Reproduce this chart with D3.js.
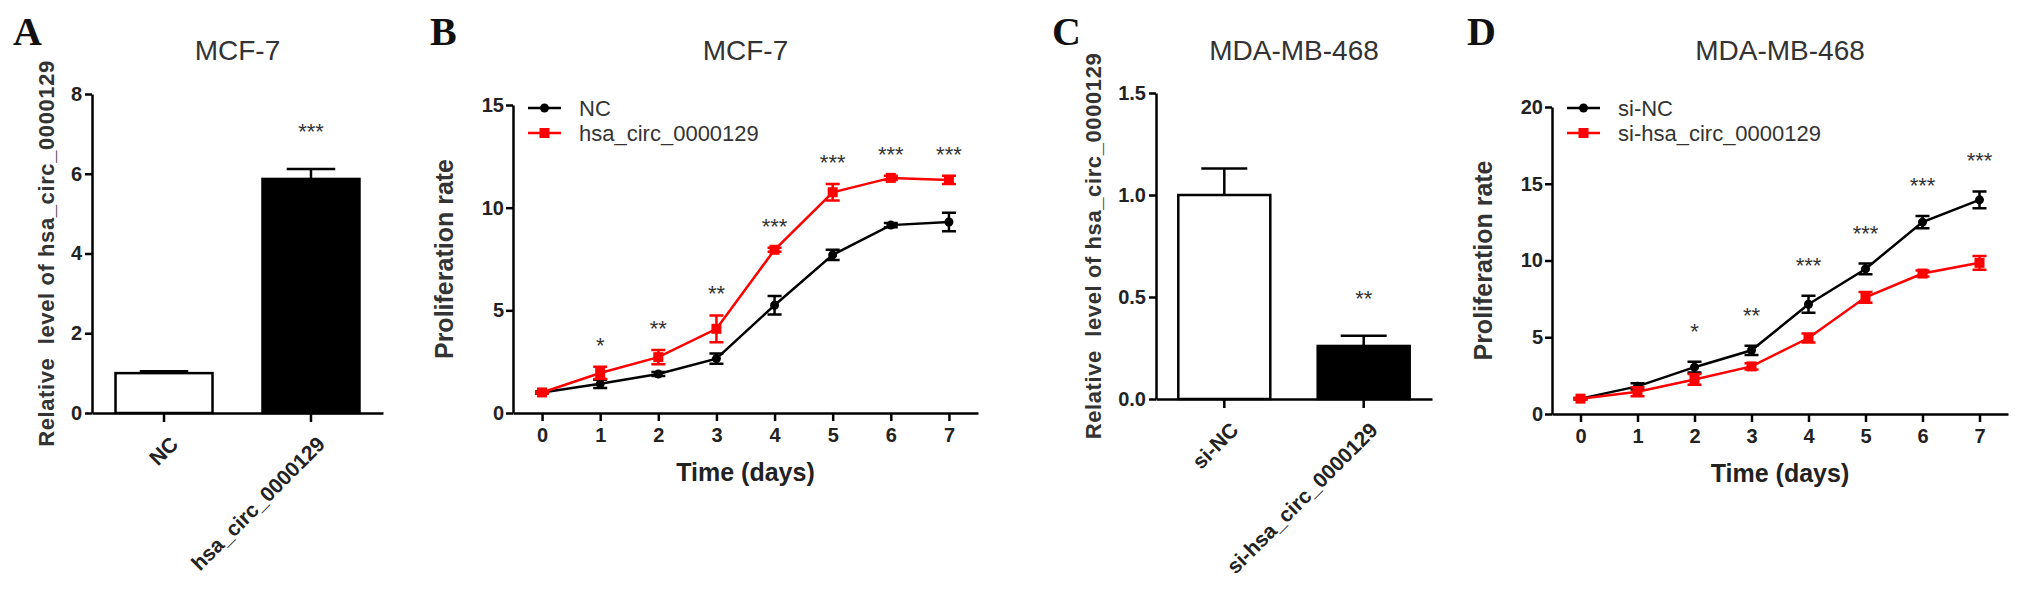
<!DOCTYPE html>
<html>
<head>
<meta charset="utf-8">
<script src="https://cdn.jsdelivr.net/npm/d3@7"></script>
<style>
body { margin: 0; background: #fff; }
text { font-family: "Liberation Sans", Arial, sans-serif; }
</style>
</head>
<body>
<script>
// panel A / C : bar charts
var groupsA = ["NC", "hsa_circ_0000129"];
var valuesA = [1.0, 5.87];
var errorsA = [0.05, 0.25];
var sigA = ["", "***"];
var yTicksA = [0, 2, 4, 6, 8];

var groupsC = ["si-NC", "si-hsa_circ_0000129"];
var valuesC = [1.0, 0.26];
var errorsC = [0.13, 0.05];
var sigC = ["", "**"];
var yTicksC = [0, 0.5, 1.0, 1.5];

// panel B / D : proliferation curves
var days = [0, 1, 2, 3, 4, 5, 6, 7];

var mcfNC = [1.0, 1.42, 1.9, 2.65, 5.25, 7.7, 9.15, 9.3];
var mcfNCErr = [0.05, 0.2, 0.1, 0.25, 0.45, 0.25, 0.1, 0.45];
var mcfCirc = [1.0, 1.95, 2.72, 4.1, 7.95, 10.75, 11.45, 11.35];
var mcfCircErr = [0.05, 0.3, 0.35, 0.65, 0.1, 0.4, 0.1, 0.2];
var mcfSig = ["", "*", "**", "**", "***", "***", "***", "***"];
var yTicksB = [0, 5, 10, 15];

var mdaNC = [1.0, 1.8, 3.05, 4.15, 7.15, 9.45, 12.5, 13.95];
var mdaNCErr = [0.05, 0.2, 0.35, 0.3, 0.55, 0.35, 0.4, 0.55];
var mdaSi = [1.0, 1.45, 2.25, 3.1, 4.95, 7.6, 9.15, 9.85];
var mdaSiErr = [0.05, 0.3, 0.35, 0.2, 0.3, 0.35, 0.2, 0.45];
var mdaSig = ["", "", "*", "**", "***", "***", "***", "***"];
var yTicksD = [0, 5, 10, 15, 20];

var W = 2031, H = 602;
var AXW = 2.5;

function styleAxis(g, size) {
    g.selectAll("path.domain").attr("stroke", "#000").attr("stroke-width", AXW);
    g.selectAll(".tick line").attr("stroke", "#000").attr("stroke-width", AXW);
    g.selectAll(".tick text")
        .attr("fill", "#222")
        .style("font-size", size + "px")
        .style("font-weight", "bold")
        .style("font-family", "'Liberation Sans', Arial, sans-serif");
}

function header(svg, c) {
    svg.append("text")
        .attr("x", c.letterX).attr("y", 45)
        .style("font-family", "'Liberation Serif', 'Times New Roman', serif")
        .style("font-weight", "bold")
        .style("font-size", "40px")
        .attr("fill", "#111")
        .text(c.letter);

    svg.append("text")
        .attr("x", (c.left + c.right) / 2).attr("y", 60)
        .attr("text-anchor", "middle")
        .style("font-size", "28px")
        .attr("fill", "#333")
        .text(c.title);

    svg.append("text")
        .attr("transform", "translate(" + c.labelX + "," + (c.top + c.bottom) / 2 + ") rotate(-90)")
        .attr("text-anchor", "middle")
        .style("font-size", c.labelSize + "px")
        .style("font-weight", "bold")
        .style("letter-spacing", c.labelSpacing + "px")
        .style("white-space", "pre")
        .attr("fill", "#333")
        .text(c.ylabel);
}

function barPanel(svg, c) {
    var x = d3.scaleBand()
        .domain(c.groups)
        .range([c.left, c.right])
        .paddingInner(0.34)
        .paddingOuter(0.16);
    var y = d3.scaleLinear()
        .domain([0, c.ticks[c.ticks.length - 1]])
        .range([c.bottom, c.top]);
    var bw = x.bandwidth();

    header(svg, c);

    var data = c.groups.map(function(g, i) {
        return { g: g, v: c.values[i], e: c.errors[i], s: c.sig[i], i: i };
    });

    // error bars first, bar outline on top
    svg.selectAll(null).data(data).enter().append("line")
        .attr("x1", function(d) { return x(d.g) + bw / 2; })
        .attr("x2", function(d) { return x(d.g) + bw / 2; })
        .attr("y1", function(d) { return y(d.v); })
        .attr("y2", function(d) { return y(d.v + d.e); })
        .attr("stroke", "#000").attr("stroke-width", AXW);
    svg.selectAll(null).data(data).enter().append("line")
        .attr("x1", function(d) { return x(d.g) + bw / 4; })
        .attr("x2", function(d) { return x(d.g) + bw * 3 / 4; })
        .attr("y1", function(d) { return y(d.v + d.e); })
        .attr("y2", function(d) { return y(d.v + d.e); })
        .attr("stroke", "#000").attr("stroke-width", AXW);

    svg.selectAll(null).data(data).enter().append("rect")
        .attr("x", function(d) { return x(d.g); })
        .attr("y", function(d) { return y(d.v); })
        .attr("width", bw)
        .attr("height", function(d) { return y(0) - y(d.v); })
        .attr("fill", function(d) { return d.i == 0 ? "#fff" : "#000"; })
        .attr("stroke", "#000").attr("stroke-width", AXW);

    svg.selectAll(null).data(data).enter().append("text")
        .attr("x", function(d) { return x(d.g) + bw / 2; })
        .attr("y", function(d) { return y(d.v + d.e) - c.sigOffset + 12; })
        .attr("text-anchor", "middle")
        .style("font-size", "22px")
        .attr("fill", "#333")
        .text(function(d) { return d.s; });

    var gy = svg.append("g")
        .attr("transform", "translate(" + c.left + ",0)")
        .call(d3.axisLeft(y).tickValues(c.ticks).tickSize(7).tickSizeOuter(0).tickPadding(3).tickFormat(c.fmt));
    styleAxis(gy, 20);

    var gx = svg.append("g")
        .attr("transform", "translate(0," + c.bottom + ")")
        .call(d3.axisBottom(x).tickSize(9).tickSizeOuter(0).tickFormat(""));
    styleAxis(gx, 20);

    svg.selectAll(null).data(data).enter().append("text")
        .attr("transform", function(d) {
            return "translate(" + (x(d.g) + bw / 2 + 5) + "," + (c.bottom + 22) + ") rotate(-45)";
        })
        .attr("text-anchor", "end")
        .attr("dy", "0.7em")
        .style("font-size", "21px")
        .style("font-weight", "bold")
        .attr("fill", "#222")
        .text(function(d) { return d.g; });
}

function linePanel(svg, c) {
    var x = d3.scaleLinear().domain([-0.5, 7.5]).range([c.left, c.right]);
    var y = d3.scaleLinear()
        .domain([0, c.ticks[c.ticks.length - 1]])
        .range([c.bottom, c.top]);

    header(svg, c);

    var line = d3.line()
        .x(function(d) { return x(d.day); })
        .y(function(d) { return y(d.v); });

    c.series.forEach(function(s) {
        var pts = days.map(function(d, i) { return { day: d, v: s.values[i], e: s.errors[i] }; });
        var g = svg.append("g");
        g.append("path")
            .datum(pts)
            .attr("d", line)
            .attr("fill", "none")
            .attr("stroke", s.color)
            .attr("stroke-width", 2.5);

        g.selectAll(null).data(pts).enter().append("path")
            .attr("d", function(d) {
                var cx = x(d.day), t = y(d.v + d.e), b = y(d.v - d.e);
                return "M" + cx + "," + t + "V" + b +
                    "M" + (cx - 7) + "," + t + "H" + (cx + 7) +
                    "M" + (cx - 7) + "," + b + "H" + (cx + 7);
            })
            .attr("fill", "none")
            .attr("stroke", s.color)
            .attr("stroke-width", 2.5);

        if (s.shape == "circle") {
            g.selectAll(null).data(pts).enter().append("circle")
                .attr("cx", function(d) { return x(d.day); })
                .attr("cy", function(d) { return y(d.v); })
                .attr("r", 4.5)
                .attr("fill", s.color);
        } else {
            g.selectAll(null).data(pts).enter().append("rect")
                .attr("x", function(d) { return x(d.day) - 5; })
                .attr("y", function(d) { return y(d.v) - 5; })
                .attr("width", 10).attr("height", 10)
                .attr("fill", s.color);
        }
    });

    // significance stars above the higher curve
    svg.selectAll(null).data(days).enter().append("text")
        .attr("x", function(d) { return x(d); })
        .attr("y", function(d, i) {
            var top = d3.max(c.series, function(s) { return s.values[i] + s.errors[i]; });
            return y(top) - c.sigOffset + 12;
        })
        .attr("text-anchor", "middle")
        .style("font-size", "22px")
        .attr("fill", "#333")
        .text(function(d, i) { return c.sig[i]; });

    var gy = svg.append("g")
        .attr("transform", "translate(" + c.left + ",0)")
        .call(d3.axisLeft(y).tickValues(c.ticks).tickSize(7).tickSizeOuter(0).tickPadding(2).tickFormat(d3.format("d")));
    styleAxis(gy, 20);

    var gx = svg.append("g")
        .attr("transform", "translate(0," + c.bottom + ")")
        .call(d3.axisBottom(x).tickValues(days).tickSize(8).tickSizeOuter(0).tickPadding(7).tickFormat(d3.format("d")));
    styleAxis(gx, 20);

    svg.append("text")
        .attr("x", x(3.5)).attr("y", c.bottom + 68)
        .attr("text-anchor", "middle")
        .style("font-size", "25px")
        .style("font-weight", "bold")
        .attr("fill", "#222")
        .text("Time (days)");

    // legend
    c.series.forEach(function(s, i) {
        var ly = 108 + i * 25;
        var lx1 = c.left + 15, lx2 = c.left + 48, mid = (lx1 + lx2) / 2;
        svg.append("line")
            .attr("x1", lx1).attr("x2", lx2).attr("y1", ly).attr("y2", ly)
            .attr("stroke", s.color).attr("stroke-width", 2.5);
        if (s.shape == "circle") {
            svg.append("circle").attr("cx", mid).attr("cy", ly).attr("r", 4.5).attr("fill", s.color);
        } else {
            svg.append("rect").attr("x", mid - 5).attr("y", ly - 5).attr("width", 10).attr("height", 10).attr("fill", s.color);
        }
        svg.append("text")
            .attr("x", c.left + 66).attr("y", ly)
            .attr("dy", "0.36em")
            .style("font-size", "22px")
            .attr("fill", "#333")
            .text(s.name);
    });
}

function init() {
    var svg = d3.select("body").append("svg")
        .attr("width", W)
        .attr("height", H);

    svg.append("rect").attr("width", W).attr("height", H).attr("fill", "#fff");

    barPanel(svg, {
        letter: "A", letterX: 13, title: "MCF-7",
        left: 92, right: 383, top: 94, bottom: 413,
        groups: groupsA, values: valuesA, errors: errorsA, sig: sigA,
        ticks: yTicksA, fmt: d3.format("d"),
        ylabel: "Relative  level of hsa_circ_0000129", labelX: 54, labelSize: 22, labelSpacing: 0.6,
        sigOffset: 42
    });

    linePanel(svg, {
        letter: "B", letterX: 430, title: "MCF-7",
        left: 513, right: 978, top: 105, bottom: 413,
        ticks: yTicksB, sig: mcfSig, sigOffset: 26,
        ylabel: "Proliferation rate", labelX: 453, labelSize: 25, labelSpacing: 0,
        series: [
            { name: "NC", values: mcfNC, errors: mcfNCErr, color: "#000", shape: "circle" },
            { name: "hsa_circ_0000129", values: mcfCirc, errors: mcfCircErr, color: "#ff0000", shape: "square" }
        ]
    });

    barPanel(svg, {
        letter: "C", letterX: 1052, title: "MDA-MB-468",
        left: 1156, right: 1432, top: 93, bottom: 399,
        groups: groupsC, values: valuesC, errors: errorsC, sig: sigC,
        ticks: yTicksC, fmt: d3.format(".1f"),
        ylabel: "Relative  level of hsa_circ_0000129", labelX: 1101, labelSize: 22, labelSpacing: 0.6,
        sigOffset: 42
    });

    linePanel(svg, {
        letter: "D", letterX: 1467, title: "MDA-MB-468",
        left: 1552, right: 2008, top: 107, bottom: 414,
        ticks: yTicksD, sig: mdaSig, sigOffset: 35,
        ylabel: "Proliferation rate", labelX: 1492, labelSize: 25, labelSpacing: 0,
        series: [
            { name: "si-NC", values: mdaNC, errors: mdaNCErr, color: "#000", shape: "circle" },
            { name: "si-hsa_circ_0000129", values: mdaSi, errors: mdaSiErr, color: "#ff0000", shape: "square" }
        ]
    });
}

window.onload = init;
</script>
</body>
</html>
